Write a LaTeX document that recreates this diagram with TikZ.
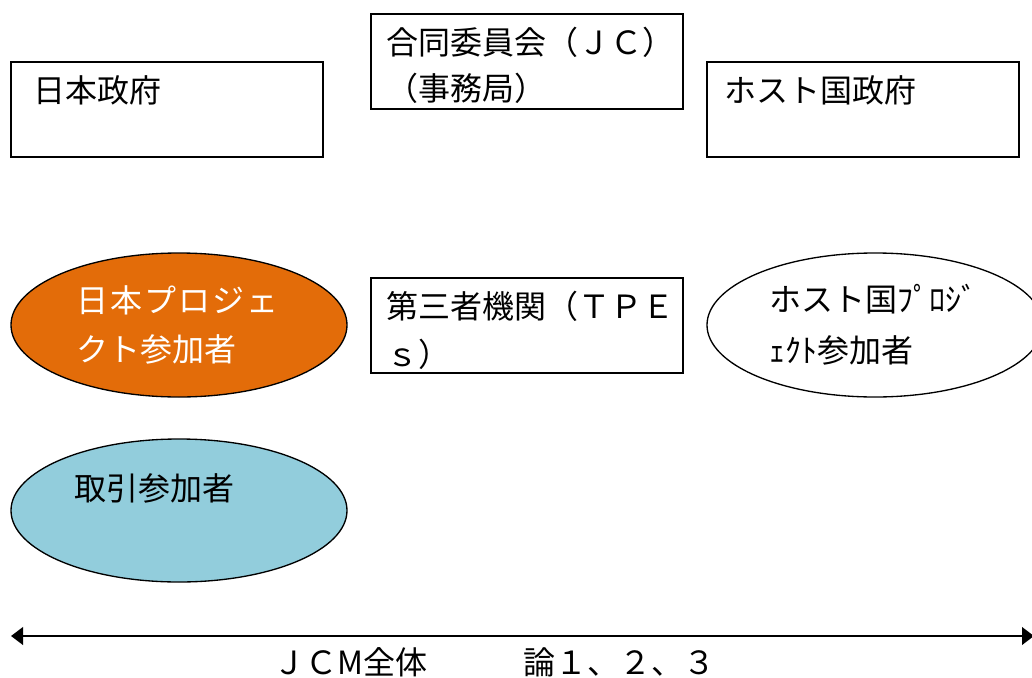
\documentclass[tikz,border=0pt]{standalone}
\usepackage{fontspec}
\setmainfont{Noto Sans CJK JP}
\usetikzlibrary{shapes.geometric,arrows.meta}
\definecolor{jporange}{HTML}{E36C09}
\definecolor{tradeblue}{HTML}{92CDDC}
\tikzset{
  boxnode/.style={draw=black, line width=1pt, minimum width=234pt, minimum height=71.25pt, inner sep=0pt},
  ellnode/.style={ellipse, draw=black, line width=1pt, minimum width=252pt, minimum height=108pt, inner sep=0pt},
  txt/.style={anchor=west, inner sep=0pt, font=\fontsize{24pt}{29pt}\selectfont},
}
\begin{document}
\begin{tikzpicture}[x=0.75pt,y=-0.75pt]
\useasboundingbox (0,0) rectangle (1032,678);
% boxes
\node[boxnode] (jgov) at (167,109.5) {};
\node[boxnode] (jc) at (527,61.5) {};
\node[boxnode] (hgov) at (863,109.5) {};
\node[boxnode] (tpe) at (527,325.5) {};
% ellipses
\node[ellnode, fill=jporange] (jpp) at (179,325) {};
\node[ellnode, fill=white] (hpp) at (875,325) {};
\node[ellnode, fill=tradeblue, minimum height=107.25pt] (trade) at (179,510.5) {};
% texts
\node[txt] (t1) at (33,90) {日本政府};
\node[txt] (t2a) at (386,42) {合同委員会（ＪＣ）};
\node[txt] (t2b) at (386,88) {（事務局）};
\node[txt] (t3) at (724,90) {ホスト国政府};
\node[txt, text=white] (t4a) at (76,300) {日\kern1.5pt本\kern1.5ptプ\kern1.5ptロ\kern1.5ptジ\kern1.5ptェ};
\node[txt, text=white] (t4b) at (76,349) {クト参加者};
\node[txt] (t5a) at (386,306) {第三者機関（ＴＰＥ};
\node[txt] (t5b) at (386,354) {ｓ）};
\node[txt] (t6a) at (769,299) {ホスト国ﾌﾟﾛｼﾞ};
\node[txt] (t6b) at (769,350) {ｪｸﾄ参加者};
\node[txt] (t7) at (74,488) {取引参加者};
% bottom arrow
\coordinate (aL) at (11,636);
\coordinate (aR) at (1034,636);
\draw[line width=2.2pt, {Triangle[length=9pt,width=13pt]}-{Triangle[length=9pt,width=13pt]}] (aL) -- (aR);
\node[txt] (t8) at (273,662) {ＪＣM全体　　　論１、２、３};
\end{tikzpicture}
\end{document}
